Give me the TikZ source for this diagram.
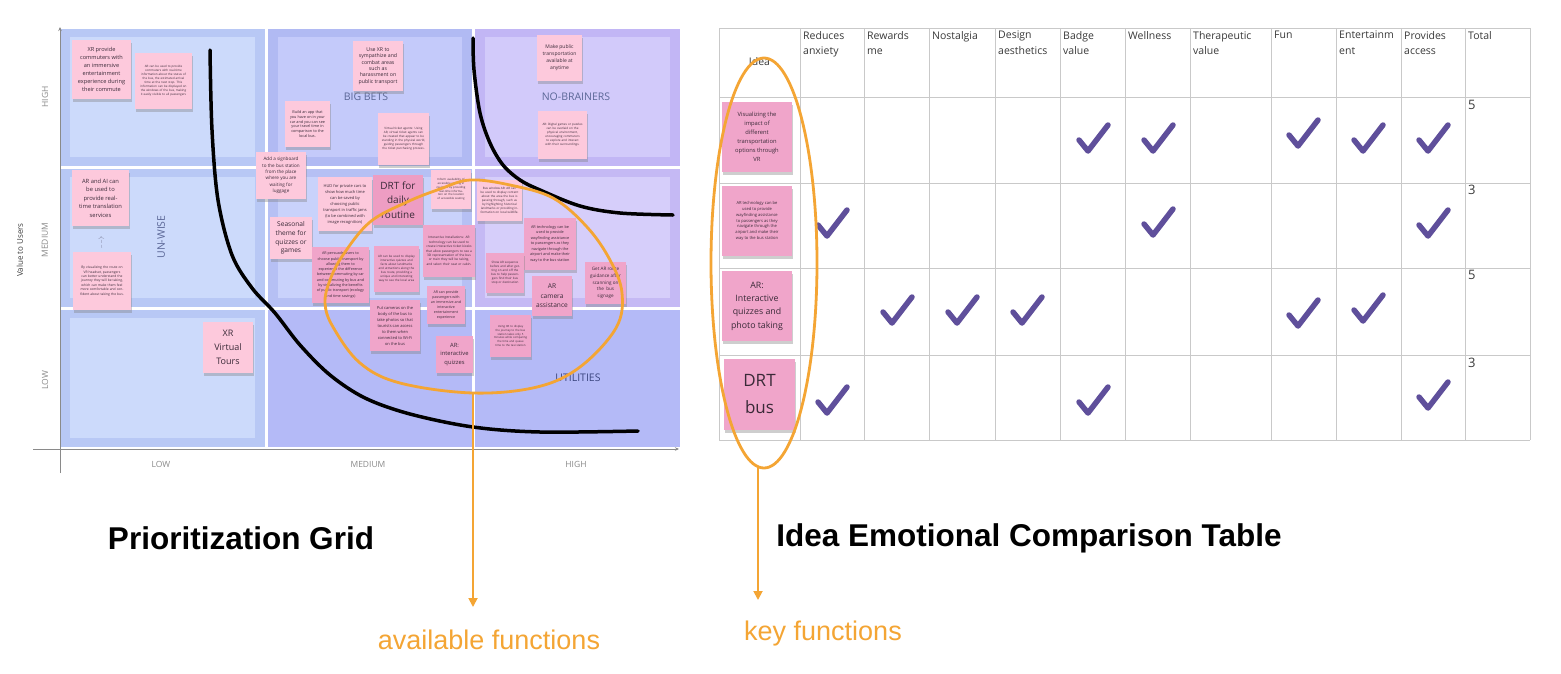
\documentclass[tikz,border=0pt]{standalone}
\usepackage{fontspec}
\setmainfont{Open Sans}
\newfontfamily\titlefont{Liberation Sans}
\usetikzlibrary{shapes.geometric, arrows.meta, shadows}

\definecolor{cellA}{HTML}{B8C8F5}
\definecolor{cellAin}{HTML}{CCDAFB}
\definecolor{cellB}{HTML}{B1BAF3}
\definecolor{cellBin}{HTML}{C4CAFA}
\definecolor{cellBm}{HTML}{B6C0F4}
\definecolor{cellBmin}{HTML}{C9D2FB}
\definecolor{cellC}{HTML}{C2B6F5}
\definecolor{cellCin}{HTML}{D2CAFA}
\definecolor{cellCm}{HTML}{C5B9F4}
\definecolor{cellCmin}{HTML}{D6CEFA}
\definecolor{cellLow}{HTML}{B4BAF7}
\definecolor{notelite}{HTML}{FDC9DC}
\definecolor{notedeep}{HTML}{F0A5CA}
\definecolor{notetext}{HTML}{3A2A38}
\definecolor{zonelabel}{HTML}{5B6797}
\definecolor{zonedark}{HTML}{3C4680}
\definecolor{axisgray}{HTML}{8A8A8A}
\definecolor{ringorange}{HTML}{F4A534}
\definecolor{checkpurple}{HTML}{5F4F9B}
\definecolor{gridgray}{HTML}{C9C9C9}
\definecolor{headtext}{HTML}{3A3A3A}

\newcommand{\notesize}[2]{\fontsize{#1pt}{#2pt}\selectfont}

\tikzset{
  sticky/.style 2 args={rectangle, fill=notelite, text=notetext, align=center, inner sep=1pt,
    minimum width=#1pt, minimum height=#2pt,
    drop shadow={shadow xshift=0.5pt, shadow yshift=-3pt, opacity=0.38}},
  deep/.style={fill=notedeep},
  zonelbl/.style={text=zonelabel, font=\notesize{10.5}{12}},
  axislbl/.style={text=axisgray, font=\notesize{8.5}{10}},
  axisline/.style={draw=axisgray, line width=0.8pt, -{Stealth[length=4pt, width=3.5pt]}},
  bigcurve/.style={draw=black, line width=3.5pt, line cap=round, line join=round},
  ring/.style={draw=ringorange, line width=2.8pt},
  pointer/.style={draw=ringorange, line width=1.8pt, -{Triangle[width=9pt, length=9pt]}},
  gridline/.style={draw=gridgray, line width=0.8pt},
  headlbl/.style={anchor=north west, align=left, text=headtext, font=\notesize{10.5}{15.5}, inner sep=0pt},
  totallbl/.style={anchor=north west, text=headtext, font=\notesize{13}{15}, inner sep=0pt},
  checkline/.style={draw=checkpurple, line width=5.5pt, line cap=round, line join=round},
  checkmk/.pic={\draw[checkline] (-14,-1) -- (-5,10) -- (15,-16);},
}

\begin{document}
\begin{tikzpicture}[x=1pt, y=-1pt]
    \useasboundingbox (0,0) rectangle (1561,673);
    \fill[white] (0,0) rectangle (1561,673);

    % Prioritization grid: cells
    \foreach \xa/\ya/\xb/\yb/\outc/\inc in {
        60/29/265/166/cellA/cellAin, 60/169/265/307/cellA/cellAin, 60/310/265/447/cellA/cellAin,
        268/29/472/166/cellB/cellBin, 268/169/472/307/cellBm/cellBmin, 268/310/472/447/cellLow/cellLow,
        475/29/680/166/cellC/cellCin, 475/169/680/307/cellCm/cellCmin, 475/310/680/447/cellLow/cellLow}
    {
        \fill[\outc] (\xa,\ya) rectangle (\xb,\yb);
        \fill[\inc] (\xa+10,\ya+8) rectangle (\xb-10,\yb-9);
    }

    % Zone names
    \node[zonelbl] (bigbets) at (366,97) {BIG BETS};
    \node[zonelbl] (nobrainers) at (576,97) {NO-BRAINERS};
    \node[zonelbl, rotate=90] (unwise) at (161,237) {UN-WISE};
    \node[zonelbl, text=zonedark] (utilities) at (578,378) {UTILITIES};

    % Axes
    \draw[axisline] (60,473) -- (60,27);
    \draw[axisline] (33,449) -- (679,449);
    \node[axislbl, rotate=90] (yhigh) at (45,97) {HIGH};
    \node[axislbl, rotate=90] (ymed) at (45,240) {MEDIUM};
    \node[axislbl, rotate=90] (ylow) at (45,380) {LOW};
    \node[rotate=90, text=headtext, font=\notesize{8}{10}] (yname) at (20,250) {Value to Users};
    \node[axislbl] (xlow) at (161,464) {LOW};
    \node[axislbl] (xmed) at (368,464) {MEDIUM};
    \node[axislbl] (xhigh) at (576,464) {HIGH};

    % Sticky notes, low effort column
    \node[sticky={59}{59}, font=\notesize{5.6}{8}] (n1) at (101.5,69.5)
        {XR provide\\commuters with\\an immersive\\entertainment\\experience during\\their commute};
    \node[sticky={57}{56}, font=\notesize{3}{4}, text width=48pt] (n2) at (163.5,81)
        {AR can be used to provide commuters with real-time information about the status of the bus, the estimated arrival time at the next stop. This information can be displayed on the windows of the bus, making it easily visible to all passengers};
    \node[sticky={57}{56}, font=\notesize{5.8}{8.5}] (n3) at (100.5,198)
        {AR and AI can\\be used to\\provide real-\\time translation\\services};
    \node[sticky={58}{58}, font=\notesize{3.3}{4.4}, text width=50pt] (n5) at (102,281)
        {By visualizing the route on VR headset, passengers can better understand the journey they will be taking, which can make them feel more comfortable and confident about taking the bus.};
    \draw[->, densely dashed, draw=zonelabel!60, line width=0.5pt, shorten <=4pt, shorten >=10pt] (n5.north) -- (n3.south);
    \node[sticky={50}{51}, font=\notesize{9}{14}] (n6) at (228,347.5) {XR\\Virtual\\Tours};

    % Sticky notes, medium effort column
    \node[sticky={50}{50}, font=\notesize{5.2}{6.4}] (n7) at (378,66)
        {Use XR to\\sympathize and\\combat areas\\such as\\harassment on\\public transport};
    \node[sticky={45}{46}, font=\notesize{3.8}{4.8}] (n8) at (307.5,124)
        {Build an app that\\you have on in your\\car and you can see\\your travel time in\\comparison to the\\local bus.};
    \node[sticky={51}{52}, font=\notesize{3}{4}, text width=44pt] (n9) at (403.5,139)
        {Virtual ticket agents: Using AR, virtual ticket agents can be created that appear to be standing in the physical world, guiding passengers through the ticket purchasing process.};
    \node[sticky={50}{47}, font=\notesize{4.6}{6.4}] (n10) at (281,175.5)
        {Add a signboard\\to the bus station\\from the place\\where you are\\waiting for\\luggage};
    \node[sticky={42}{42}, font=\notesize{6.6}{8.7}] (n13) at (291,238)
        {Seasonal\\theme for\\quizzes or\\games};
    \node[sticky={54}{54}, font=\notesize{4}{6}] (n14) at (345,204)
        {HUD for private cars to\\show how much time\\can be saved by\\choosing public\\transport in traffic jams\\(to be combined with\\image recognition)};
    \node[sticky={50}{50}, deep, fill=notedeep!95!purple, font=\notesize{10}{14.3}] (n15) at (398,200)
        {DRT for\\daily\\routine};
    \node[sticky={40}{39}, font=\notesize{2.8}{3.8}, text width=35pt] (n16) at (451,189.5)
        {Inform availability of accessible seating in real time by providing real-time information on the location of accessible seating};
    \node[sticky={57}{56}, deep, font=\notesize{3.7}{5.3}] (n17) at (340.5,275)
        {AR persuade users to\\choose public transport by\\allowing them to\\experience the difference\\between commuting by car\\and commuting by bus and\\by visualizing the benefits\\of public transport (ecology\\and time savings)};
    \node[sticky={45}{46}, deep, font=\notesize{3}{4}, text width=40pt] (n18) at (396.5,269)
        {AR can be used to display interactive quizzes and facts about landmarks and attractions along the bus route, providing a unique and interesting way to see the local area};
    \node[sticky={52}{52}, deep, font=\notesize{3.2}{4.4}, text width=47pt] (n19) at (449,251)
        {Interactive Installations: AR technology can be used to create interactive ticket kiosks that allow passengers to see a 3D representation of the bus or train they will be taking, and select their seat or cabin.};
    \node[sticky={38}{38}, deep, font=\notesize{3.6}{5}] (n20) at (446,305)
        {AR can provide\\passengers with\\an immersive and\\interactive\\entertainment\\experience};
    \node[sticky={50}{51}, deep, font=\notesize{4}{6}] (n21) at (395,325.5)
        {Put cameras on the\\body of the bus to\\take photos so that\\tourists can access\\to them when\\connected to Wi-Fi\\on the bus};
    \node[sticky={37}{37}, deep, font=\notesize{5.8}{8.3}] (n22) at (454.5,354.5)
        {AR:\\interactive\\quizzes};

    % Sticky notes, high effort column
    \node[sticky={45}{46}, font=\notesize{5}{7}] (n11) at (559.5,58)
        {Make public\\transportation\\available at\\anytime};
    \node[sticky={49}{48}, font=\notesize{3}{4}, text width=42pt] (n12) at (562.5,135)
        {AR: Digital games or puzzles can be overlaid on the physical environment, encouraging commuters to explore and interact with their surroundings.};
    \node[sticky={45}{41}, font=\notesize{3}{4}, text width=40pt] (n23) at (499.5,200.5)
        {Bus window AR: AR can be used to display content about the area the bus is passing through, such as by highlighting historical landmarks or providing information on local wildlife.};
    \node[sticky={52}{52}, deep, font=\notesize{3.8}{5.5}] (n24) at (550,244)
        {AR technology can be\\used to provide\\wayfinding assistance\\to passengers as they\\navigate through the\\airport and make their\\way to the bus station};
    \node[sticky={38}{40}, deep, font=\notesize{3}{4}, text width=34pt] (n25) at (505,273)
        {Show AR sequence before and after getting on and off the bus to help passengers find their bus stop or destination};
    \node[sticky={40}{40}, deep, font=\notesize{6.6}{9.6}] (n26) at (552,296)
        {AR\\camera\\assistance};
    \node[sticky={41}{42}, deep, font=\notesize{4.6}{6.8}] (n27) at (605.5,283)
        {Get AR route\\guidance after\\scanning on\\the~ bus\\signage};
    \node[sticky={41}{42}, deep, font=\notesize{2.8}{3.8}, text width=36pt] (n28) at (510.5,336)
        {Using XR to display the journey to the bus station takes only 5 minutes while comparing the time and queue time to the taxi station};

    % Hand-drawn frontiers
    \draw[bigcurve] plot[smooth, tension=0.55] coordinates {(210,50) (212,130) (218,200) (232,255)
        (252,288) (275,313) (300,345) (330,375) (365,398) (410,414) (473,427) (540,432) (638,431)};
    \draw[bigcurve] plot[smooth, tension=0.55] coordinates {(473,38) (474,70) (480,113) (490,143)
        (503,165) (520,180) (540,190) (580,206) (620,213) (673,215)};

    % Idea emotional comparison table
    \foreach \gx in {719,800,864,929,995,1060,1125,1190,1271,1336,1401,1465,1530}
        \draw[gridline] (\gx,28) -- (\gx,440);
    \foreach \gy in {28,97,183,268,355,440}
        \draw[gridline] (719,\gy) -- (1530,\gy);
    \node[headlbl, anchor=center] (hdidea) at (759.5,62) {Idea};
    \foreach \gx/\txt [count=\i] in {800/{Reduces\\anxiety}, 864/{Rewards\\me}, 929/{Nostalgia},
        995/{Design\\aesthetics}, 1060/{Badge\\value}, 1125/{Wellness}, 1190/{Therapeutic\\value},
        1271/{Fun}, 1336/{Entertainm\\ent}, 1401/{Provides\\access}, 1465/{Total}}
        \node[headlbl] (hd\i) at (\gx+3,31) {\txt};
    \foreach \ty/\tot [count=\i] in {100/5, 185/3, 270/5, 358/3}
        \node[totallbl] (tot\i) at (1468,\ty) {\tot};

    % Ideas in the table
    \node[sticky={70}{70}, deep, font=\notesize{5.8}{9}] (t1) at (757,137)
        {Visualizing the\\impact of\\different\\transportation\\options through\\VR};
    \node[sticky={70}{70}, deep, font=\notesize{4.1}{5.8}] (t2) at (757,221)
        {AR technology can be\\used to provide\\wayfinding assistance\\to passengers as they\\navigate through the\\airport and make their\\way to the bus station};
    \node[sticky={70}{70}, deep, font=\notesize{8.8}{13.3}] (t3) at (757,306)
        {AR:\\Interactive\\quizzes and\\photo taking};
    \node[sticky={71}{71}, deep, font=\notesize{17}{27}] (t4) at (759.5,394.5) {DRT\\bus};

    % Checks
    \foreach \cx/\cy in {1093/141, 1158/141, 1303/136, 1368/141, 1433/141,
        832/226, 1158/225, 1433/226,
        897/313, 962/313, 1027/313, 1303/316, 1368/311,
        832/403, 1093/403, 1433/398}
        \pic at (\cx,\cy) {checkmk};

    % Orange rings and pointers
    \draw[ring] plot[smooth cycle, tension=0.6] coordinates {(470,180) (510,185) (553,198) (587,227)
        (610,260) (622,293) (616,328) (580,367) (537,387) (473,393) (400,383) (360,363) (333,327)
        (325,303) (330,280) (343,255) (370,222) (407,202) (440,189)};
    \coordinate (availbase) at (473,393);
    \coordinate (availtip) at (473,607);
    \draw[pointer] (availbase) -- (availtip);
    \node[ring, ellipse, minimum width=106pt, minimum height=410pt, inner sep=0pt] (keyring) at (764,263) {};
    \coordinate (keybase) at (758,468);
    \coordinate (keytip) at (758,600);
    \draw[pointer] (keybase) -- (keytip);

    % Captions
    \node[font=\titlefont\bfseries\fontsize{31.5}{36}\selectfont] (gridtitle) at (241,538) {Prioritization Grid};
    \node[font=\titlefont\bfseries\fontsize{31.5}{36}\selectfont] (tabletitle) at (1029,538) {Idea Emotional Comparison Table};
    \node[text=ringorange, font=\titlefont\fontsize{27}{31}\selectfont] (availlbl) at (489,640) {available functions};
    \node[text=ringorange, font=\titlefont\fontsize{27}{31}\selectfont] (keylbl) at (823,634) {key functions};
\end{tikzpicture}
\end{document}
